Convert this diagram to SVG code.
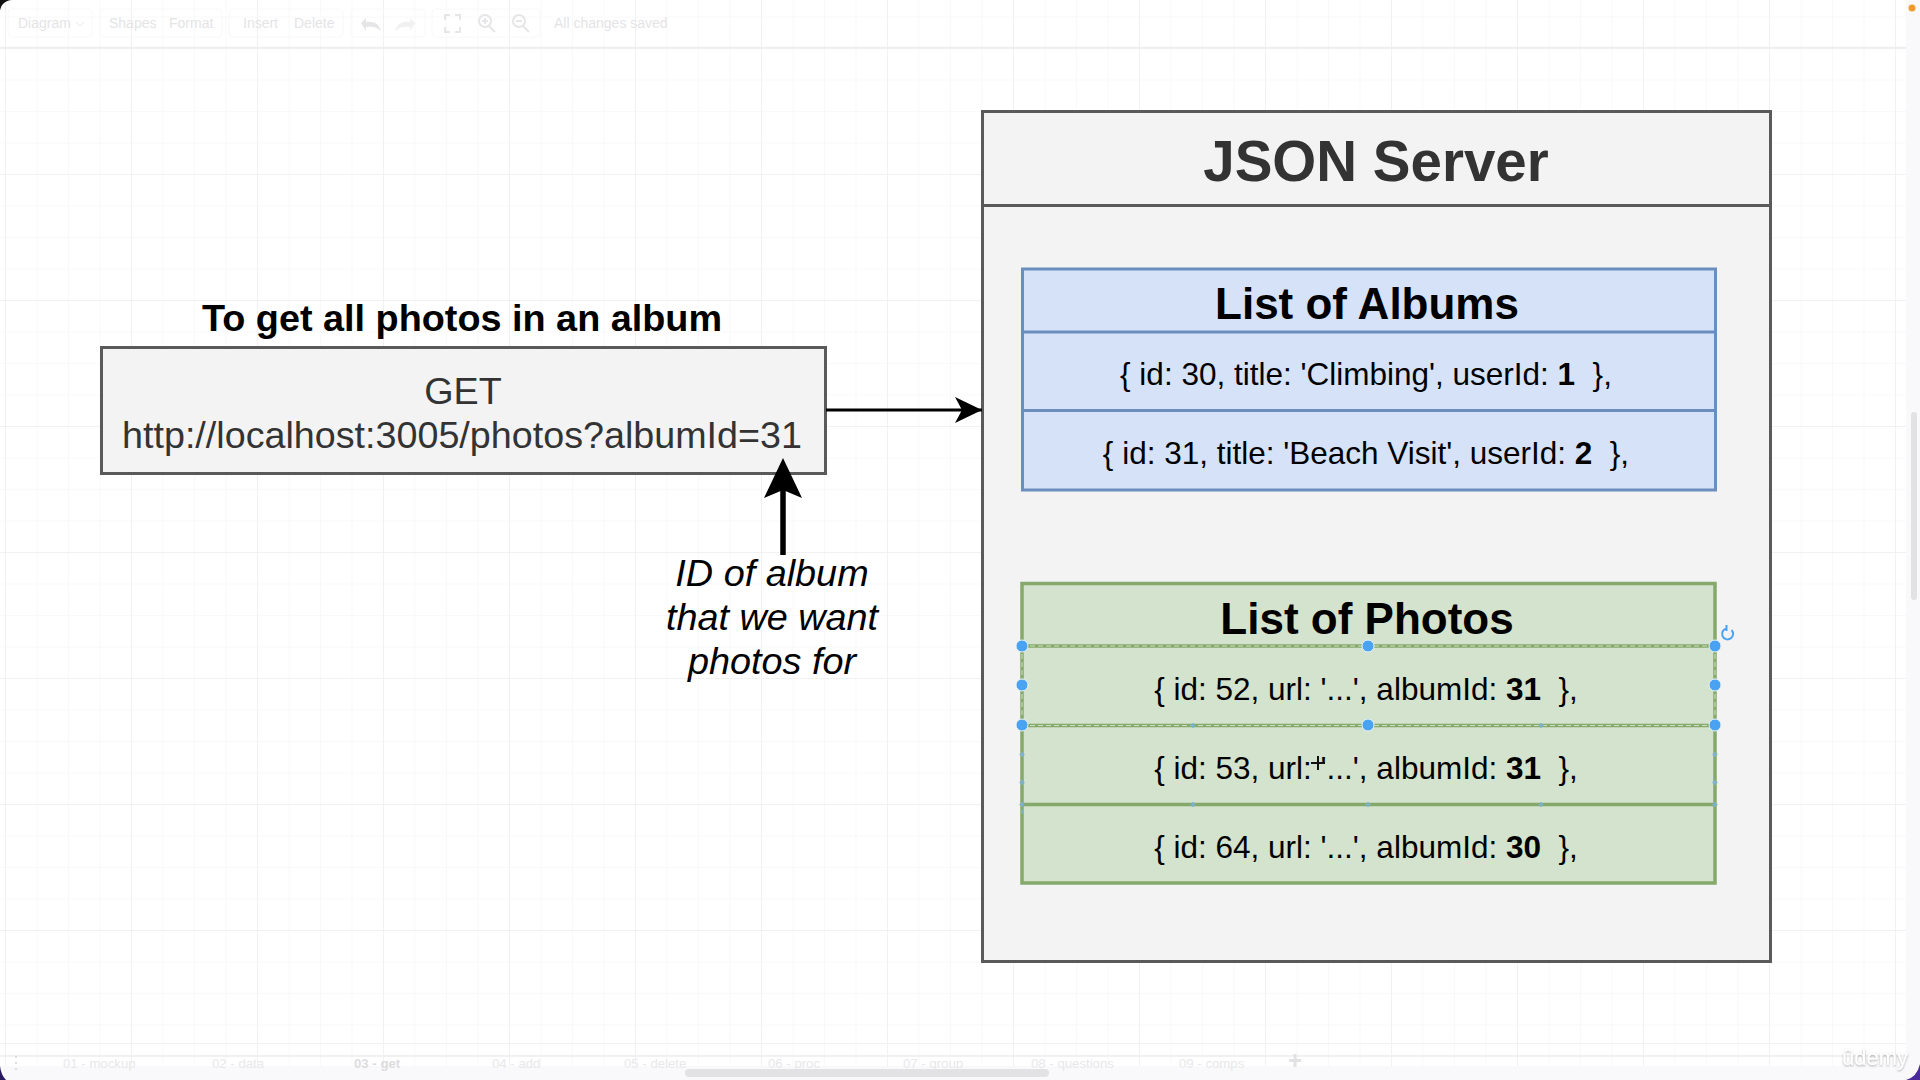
<svg xmlns="http://www.w3.org/2000/svg" width="1920" height="1080" viewBox="0 0 1920 1080">
<defs>
<style>
text{font-family:"Liberation Sans",Arial,Helvetica,sans-serif;text-anchor:middle;fill:#000}
.ui{font-size:14px;fill:#e4e4e6;text-anchor:start}
.tab{font-size:13.200px;fill:#e8e8ea;text-anchor:start}
.tb{fill:none;stroke:#f8f8f9;stroke-width:1}
.ic{fill:none;stroke:#e6e6e8;stroke-width:2}
.row{font-size:31.500px}
.hd{font-size:44px;font-weight:bold}
.note{font-size:37.800px;font-style:italic}
.main{font-size:37.700px;fill:#333}
.gray{fill:#f3f3f3;stroke:#5a5a5a;stroke-width:3}
.blue{fill:#d5e2f8;stroke:#6c8ebf;stroke-width:3}
.green{fill:#d4e3cd;stroke:#84a96a;stroke-width:3.500}
.conn{stroke:#000;fill:none}
.h{fill:#4aa3f2;stroke:#e8f2fa;stroke-width:1}
.x{stroke:#7ab4d6;stroke-width:1.500;fill:none}
.sel{stroke:#cfe0c6;stroke-width:1;stroke-dasharray:5 3;fill:none}
</style>
<pattern id="minor" width="31.500" height="31.500" patternUnits="userSpaceOnUse" x="5" y="16.500"><path d="M0 0V31.500M0 0H31.500" fill="none" stroke="#f3f3f4" stroke-width="1"/></pattern>
<pattern id="major" width="126" height="126" patternUnits="userSpaceOnUse" x="131" y="48"><path d="M0 0V126M0 0H126" fill="none" stroke="#eaeaeb" stroke-width="1"/></pattern>
<marker id="arrow" markerUnits="userSpaceOnUse" markerWidth="40" markerHeight="60" refX="27" refY="13" orient="auto"><path d="M0 0L27 13L0 26L7 13Z" fill="#000"/></marker>
<filter id="sh" x="-20%" y="-30%" width="140%" height="160%"><feDropShadow dx="0" dy="1" stdDeviation="1.200" flood-color="#555" flood-opacity=".55"/></filter>
</defs>

<g id="canvas">
<rect width="1920" height="1080" fill="#fff"/>
<rect width="1906" height="1066" fill="url(#minor)"/>
<rect width="1906" height="1066" fill="url(#major)"/>
</g>

<g id="chrome-top">
<path d="M0 47.500H1906" stroke="#eeeeef" stroke-width="1.500"/>
<rect class="tb" x="8" y="9" width="84" height="28" rx="4"/>
<rect class="tb" x="100" y="9" width="122" height="28" rx="4"/>
<rect class="tb" x="229" y="9" width="114" height="28" rx="4"/>
<rect class="tb" x="351" y="9" width="74" height="28" rx="4"/>
<rect class="tb" x="432" y="9" width="108" height="28" rx="4"/>
<text class="ui" x="18" y="28">Diagram</text>
<path d="M76 22l4 4l4-4" fill="none" stroke="#e8e8ea" stroke-width="1"/>
<text class="ui" x="109" y="28">Shapes</text>
<text class="ui" x="169" y="28">Format</text>
<text class="ui" x="243" y="28">Insert</text>
<text class="ui" x="294" y="28">Delete</text>
<path d="M361 23l5-5v4c8-1 13 2 15 9c-4-4-9-5-15-4v4z" fill="#e6e6e8"/>
<path d="M415 23l-5-5v4c-8-1-13 2-15 9c4-4 9-5 15-4v4z" fill="#f1f1f2"/>
<path class="ic" d="M445 20v-5h5M455 15h5v5M460 27v5h-5M450 32h-5v-5"/>
<circle class="ic" cx="485" cy="21" r="6"/><path class="ic" d="M489 26l6 6M482 21h6M485 18v6"/>
<circle class="ic" cx="519" cy="21" r="6"/><path class="ic" d="M523 26l6 6M516 21h6"/>
<text class="ui" x="554" y="28">All changes saved</text>
</g>

<g id="chrome-bottom">
<path d="M0 1043.500H1906" stroke="#f2f2f3" stroke-width="1"/>
<path d="M0 1055.500H1906" stroke="#f0f0f1" stroke-width="1"/>
<rect x="0" y="1066" width="1920" height="14" fill="#f9f9fb"/>
<rect x="1906" y="0" width="14" height="1080" fill="#f9f9fb"/>
<text class="tab" x="63" y="1068">01 - mockup</text>
<text class="tab" x="212" y="1068">02 - data</text>
<text class="tab" x="354" y="1068" style="font-weight:bold;fill:#dcdcde">03 - get</text>
<text class="tab" x="492" y="1068">04 - add</text>
<text class="tab" x="624" y="1068">05 - delete</text>
<text class="tab" x="768" y="1068">06 - proc</text>
<text class="tab" x="903" y="1068">07 - group</text>
<text class="tab" x="1031" y="1068">08 - questions</text>
<text class="tab" x="1179" y="1068">09 - comps</text>
<path d="M1295 1054v13M1289 1060.500h12" stroke="#e2e2e4" stroke-width="3"/>
<path d="M16 1056v2M16 1062v2M16 1068v2" stroke="#dcdcde" stroke-width="2"/>
<rect x="685" y="1069" width="364" height="8" rx="4" fill="#e2e2e4"/>
<rect x="1911" y="412" width="6" height="188" rx="3" fill="#e2e2e4"/>
<path d="M0 0H12A12 12 0 0 0 0 12Z" fill="#111"/>
<path d="M0 1080H6Q1 1075 0 1066Z" fill="#2a1a5e"/>
<path d="M1920 1080H1906Q1917 1077 1920 1064Z" fill="#4a2a9a"/>
<circle cx="1912" cy="8" r="3.500" fill="#f39a2e"/>
<text x="1875" y="1065" style="font-size:22px;fill:#fff;filter:url(#sh)">ûdemy</text>
</g>

<g id="json-server">
<rect class="gray" x="982.500" y="111.500" width="788" height="850"/>
<path class="gray" d="M982.500 205.500H1770.500"/>
<text x="1376" y="181" style="font-size:56.500px;font-weight:bold;fill:#333">JSON Server</text>
</g>

<g id="list-of-albums">
<rect class="blue" x="1022.500" y="269" width="693" height="221"/>
<path class="blue" d="M1022.500 332H1715.500M1022.500 410.500H1715.500"/>
<text class="hd" x="1367" y="319">List of Albums</text>
<text class="row" x="1366" y="385">{ id: 30, title: 'Climbing', userId: <tspan font-weight="bold">1</tspan>&#160; },</text>
<text class="row" x="1366" y="464">{ id: 31, title: 'Beach Visit', userId: <tspan font-weight="bold">2</tspan>&#160; },</text>
</g>

<g id="list-of-photos">
<rect class="green" x="1022" y="583.500" width="693" height="299.500"/>
<path class="green" d="M1022 646H1715M1022 725.500H1715M1022 804.500H1715"/>
<text class="hd" x="1367" y="634">List of Photos</text>
<text class="row" x="1366" y="700">{ id: 52, url: '...', albumId: <tspan font-weight="bold">31</tspan>&#160; },</text>
<text class="row" x="1366" y="779">{ id: 53, url: '...', albumId: <tspan font-weight="bold">31</tspan>&#160; },</text>
<text class="row" x="1366" y="858">{ id: 64, url: '...', albumId: <tspan font-weight="bold">30</tspan>&#160; },</text>
</g>

<g id="selection">
<path class="sel" d="M1030 646H1707M1030 725.500H1707M1022 654V717M1715 654V717"/>
<g class="x"><path d="M1193 723v5M1190.500 725.500h5M1541 723v5M1538.500 725.500h5M1022 752v5M1019.500 754.500h5M1022 780v5M1019.500 782.500h5M1022 809v5M1715 752v5M1712.500 754.500h5M1715 780v5M1712.500 782.500h5"/><path d="M1193 802v5M1190.500 804.500h5M1368 802v5M1365.500 804.500h5M1541 802v5M1538.500 804.500h5M1022 802v5M1019.500 804.500h5M1715 802v5M1712.500 804.500h5"/></g>
<circle class="h" cx="1022" cy="646" r="6"/><circle class="h" cx="1368" cy="646" r="6"/><circle class="h" cx="1715" cy="646" r="6"/>
<circle class="h" cx="1022" cy="685" r="6"/><circle class="h" cx="1715" cy="685" r="6"/>
<circle class="h" cx="1022" cy="725" r="6"/><circle class="h" cx="1368" cy="725" r="6"/><circle class="h" cx="1715" cy="725" r="6"/>
<path d="M1731.500 630a5.500 5.500 0 1 1-5-1.500M1726.500 625v6" fill="none" stroke="#4aa3f2" stroke-width="2"/>
<path d="M1318 756v14M1311 763h14" stroke="#111" stroke-width="2"/>
</g>

<g id="request">
<rect class="gray" x="101.500" y="347.500" width="724" height="126"/>
<text x="462" y="331" style="font-size:37.800px;font-weight:bold">To get all photos in an album</text>
<text class="main" x="463" y="403.500">GET</text>
<text class="main" x="462" y="447.500">http://localhost:3005/photos?albumId=31</text>
</g>

<g id="note">
<text class="note" x="772" y="586">ID of album</text>
<text class="note" x="772" y="630">that we want</text>
<text class="note" x="772" y="674">photos for</text>
</g>

<g id="connectors">
<path class="conn" stroke-width="3" d="M826 410H982" marker-end="url(#arrow)"/>
<path class="conn" stroke-width="5.500" d="M783 555V480"/>
<path d="M783 458L802 498L783 490L764 498Z" fill="#000"/>
</g>
</svg>
